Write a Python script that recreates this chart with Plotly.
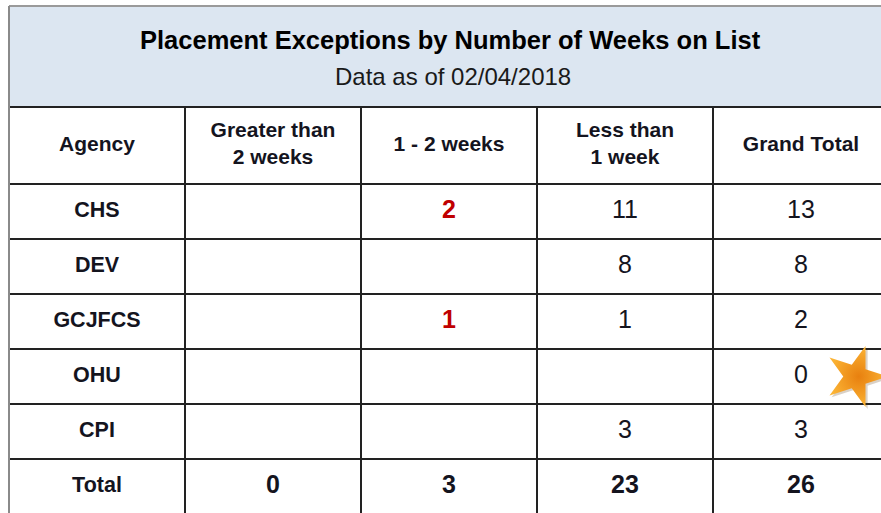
import plotly.graph_objects as go

# ---------------- data ----------------
title_text = "Placement Exceptions by Number of Weeks on List"
subtitle_text = "Data as of 02/04/2018"
column_keys = ["Agency", "Greater than 2 weeks", "1 - 2 weeks", "Less than 1 week", "Grand Total"]
column_labels = ["Agency", "Greater than<br>2 weeks", "1 - 2 weeks", "Less than<br>1 week", "Grand Total"]
agencies = ["CHS", "DEV", "GCJFCS", "OHU", "CPI"]
greater_than_2_weeks = [None, None, None, None, None]
one_to_two_weeks = [2, None, 1, None, None]
less_than_1_week = [11, 8, 1, None, 3]
grand_total = [13, 8, 2, 0, 3]
total_label = "Total"
column_totals = [0, 3, 23, 26]
starred_agency = "OHU"

rows = agencies + [total_label]

# ---------------- styles ----------------
W, H = 881, 513
FONT = "Liberation Sans, Arial, sans-serif"
TEXT = "#14141e"
RED = "#C00000"
GRID = "#222222"
BAND = "#DCE6F1"
LEFT_PX, BAND_TOP_PX, HEADER_TOP_PX, BODY_TOP_PX = 9, 6, 107, 184
COL_PX = 176
ROW_PX = 55


def px_x(p):
    return p / W


def px_y(p):
    return 1 - p / H


fig = go.Figure()

# header row (grid via heatmap gaps)
fig.add_trace(go.Heatmap(
    x=column_keys, y=["header"], z=[[0] * len(column_keys)],
    colorscale=[[0, "white"], [1, "white"]], showscale=False,
    xgap=2, ygap=2, hoverinfo="skip", xaxis="x", yaxis="y2"))
fig.add_trace(go.Scatter(
    x=column_keys, y=["header"] * len(column_keys), text=column_labels,
    mode="text", textposition="middle center",
    textfont=dict(family=FONT, size=21, color=TEXT, weight="bold"),
    hoverinfo="skip", xaxis="x", yaxis="y2"))

# body rows
fig.add_trace(go.Heatmap(
    x=column_keys, y=rows, z=[[0] * len(column_keys) for _ in rows],
    colorscale=[[0, "white"], [1, "white"]], showscale=False,
    xgap=2, ygap=2, hoverinfo="skip", xaxis="x", yaxis="y"))

# agency labels
fig.add_trace(go.Scatter(
    x=[column_keys[0]] * len(rows), y=rows, text=rows,
    mode="text", textposition="middle center",
    textfont=dict(family=FONT, size=21.5, color=TEXT, weight="bold"),
    hoverinfo="skip", xaxis="x", yaxis="y"))

# regular number columns
reg_x, reg_y, reg_t = [], [], []
for key, vals in [(column_keys[1], greater_than_2_weeks),
                  (column_keys[3], less_than_1_week),
                  (column_keys[4], grand_total)]:
    for a, v in zip(agencies, vals):
        if v is not None:
            reg_x.append(key)
            reg_y.append(a)
            reg_t.append(str(v))
fig.add_trace(go.Scatter(
    x=reg_x, y=reg_y, text=reg_t, mode="text", textposition="middle center",
    textfont=dict(family=FONT, size=25, color=TEXT),
    hoverinfo="skip", xaxis="x", yaxis="y"))

# red 1-2 weeks column
red_x, red_y, red_t = [], [], []
for a, v in zip(agencies, one_to_two_weeks):
    if v is not None:
        red_x.append(column_keys[2])
        red_y.append(a)
        red_t.append(str(v))
fig.add_trace(go.Scatter(
    x=red_x, y=red_y, text=red_t, mode="text", textposition="middle center",
    textfont=dict(family=FONT, size=25, color=RED, weight="bold"),
    hoverinfo="skip", xaxis="x", yaxis="y"))

# totals row
fig.add_trace(go.Scatter(
    x=column_keys[1:], y=[total_label] * len(column_totals),
    text=[str(v) for v in column_totals], mode="text", textposition="middle center",
    textfont=dict(family=FONT, size=25, color=TEXT, weight="bold"),
    hoverinfo="skip", xaxis="x", yaxis="y"))

# decorative star next to the starred agency's grand total (overlay index axes)
star_x = len(column_keys) - 1 + 0.31
star_y = agencies.index(starred_agency)
fig.add_trace(go.Scatter(
    x=[star_x + 0.012], y=[star_y + 0.035], mode="markers",
    marker=dict(symbol="star", size=46, angle=90, color="rgba(80,45,0,0.22)",
                line=dict(width=0)),
    hoverinfo="skip", xaxis="x3", yaxis="y3", cliponaxis=True))
fig.add_trace(go.Scatter(
    x=[star_x], y=[star_y], mode="markers",
    marker=dict(symbol="star", size=46, angle=90, color="#FBB334",
                gradient=dict(type="radial", color="#E8800F"),
                line=dict(width=0)),
    hoverinfo="skip", xaxis="x3", yaxis="y3", cliponaxis=True))

x_span = (W - LEFT_PX) / COL_PX
body_span = (H - BODY_TOP_PX) / ROW_PX
x_range = [-0.5, -0.5 + x_span]
y_range = [-0.5 + body_span, -0.5]

fig.update_layout(
    width=W, height=H, autosize=False,
    margin=dict(l=0, r=0, t=0, b=0, pad=0),
    paper_bgcolor="white", plot_bgcolor=GRID,
    showlegend=False,
    xaxis=dict(domain=[px_x(LEFT_PX), 1], type="category",
               categoryorder="array", categoryarray=column_keys,
               range=x_range, visible=False, fixedrange=True),
    yaxis=dict(domain=[0, px_y(BODY_TOP_PX)], type="category",
               categoryorder="array", categoryarray=rows,
               range=y_range, visible=False, fixedrange=True),
    yaxis2=dict(domain=[px_y(BODY_TOP_PX), px_y(HEADER_TOP_PX)], type="category",
                range=[0.5, -0.5], visible=False, fixedrange=True),
    xaxis3=dict(overlaying="x", type="linear", range=x_range, visible=False,
                fixedrange=True, anchor="y3"),
    yaxis3=dict(overlaying="y", type="linear", range=y_range, visible=False,
                fixedrange=True, anchor="x3"),
    shapes=[
        dict(type="rect", xref="paper", yref="paper",
             x0=px_x(LEFT_PX), x1=1, y0=px_y(HEADER_TOP_PX), y1=px_y(BAND_TOP_PX),
             fillcolor=BAND, line=dict(width=0), layer="below"),
        dict(type="line", xref="paper", yref="paper",
             x0=px_x(LEFT_PX), x1=1, y0=px_y(HEADER_TOP_PX), y1=px_y(HEADER_TOP_PX),
             line=dict(color=GRID, width=2), layer="above"),
        dict(type="line", xref="paper", yref="paper",
             x0=px_x(LEFT_PX), x1=1, y0=px_y(BAND_TOP_PX), y1=px_y(BAND_TOP_PX),
             line=dict(color="#9a9a9a", width=2), layer="above"),
        dict(type="line", xref="paper", yref="paper",
             x0=px_x(LEFT_PX), x1=px_x(LEFT_PX), y0=0, y1=px_y(BAND_TOP_PX),
             line=dict(color="#8a8a8a", width=2), layer="above"),
    ],
    annotations=[
        dict(text="<b>" + title_text + "</b>", xref="paper", yref="paper",
             x=px_x(450), y=px_y(40), xanchor="center", yanchor="middle",
             showarrow=False, font=dict(family=FONT, size=25.5, color="#000000")),
        dict(text=subtitle_text, xref="paper", yref="paper",
             x=px_x(453), y=px_y(76), xanchor="center", yanchor="middle",
             showarrow=False, font=dict(family=FONT, size=24, color="#1a1a1a")),
    ],
)

fig.write_html("out.html", config={"displayModeBar": False, "staticPlot": True},
               post_script="document.body.style.margin='0';document.body.style.overflow='hidden';")
